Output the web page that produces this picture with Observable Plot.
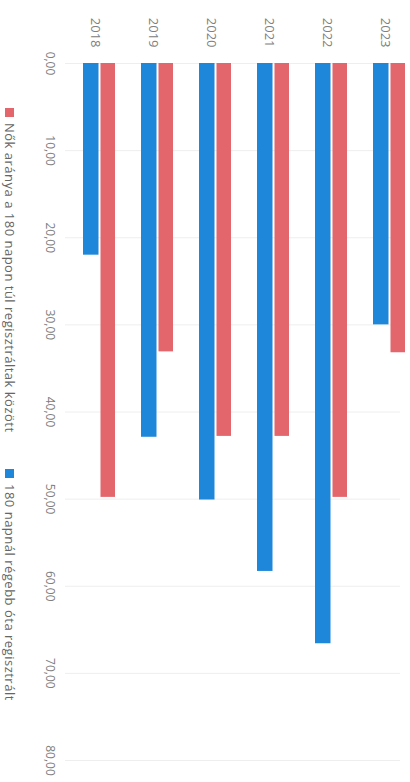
<!DOCTYPE html>
<html>
<head>
<meta charset="utf-8">
<script src="https://cdn.jsdelivr.net/npm/d3@7"></script>
<script src="https://cdn.jsdelivr.net/npm/@observablehq/plot@0.6"></script>
<style>
  html, body { margin: 0; padding: 0; overflow: hidden; background: #fff; width: 410px; height: 782px; }
  #wrap {
    position: absolute; left: 0; top: 0; width: 782px; height: 410px;
    transform-origin: 0 0; transform: translate(410px, 0) rotate(90deg);
    font-family: "Open Sans", sans-serif;
  }
  #legend { position: absolute; left: 0; top: 392px; height: 16px; width: 782px; font-size: 13px; color: #666; letter-spacing: 0.5px; }
  .item { position: absolute; top: 0; display: flex; align-items: center; height: 16px; white-space: nowrap; }
  .sw { width: 9px; height: 9px; margin-right: 6px; display: inline-block; }
</style>
</head>
<body>
<div id="wrap"><div id="chart"></div><div id="legend"></div></div>
<script>
const years = ["2018", "2019", "2020", "2021", "2022", "2023"];
const regisztraltak = [22.0, 42.9, 50.1, 58.3, 66.6, 30.0];   // 180 napnál régebb óta regisztrált
const nokAranya = [49.8, 33.1, 42.8, 42.8, 49.8, 33.2];        // Nők aránya a 180 napon túl regisztráltak között
const seriesNames = ["Nők aránya a 180 napon túl regisztráltak között", "180 napnál régebb óta regisztrált"];
const seriesColors = ["#E4666D", "#1F87D9"];
const xTicks = [0, 10, 20, 30, 40, 50, 60, 70, 80];

const blueData = years.map((y, i) => ({year: y, value: regisztraltak[i]}));
const redData = years.map((y, i) => ({year: y, value: nokAranya[i]}));
const fmt = d => d.toFixed(2).replace(".", ",");

const chart = Plot.plot({
  width: 782,
  height: 390,
  marginLeft: 63,
  marginRight: 22,
  marginTop: 10,
  marginBottom: 45,
  style: {fontFamily: "Open Sans", fontSize: "12px", color: "#808080", background: "transparent"},
  x: {domain: [0, 80], ticks: xTicks, tickFormat: fmt},
  y: {type: "band", domain: years.slice().reverse(), range: [-23, 355], padding: 0.45},
  marks: [
    Plot.gridX(xTicks, {stroke: "#eeeeee", strokeOpacity: 1, strokeWidth: 1}),
    Plot.barX(redData, {x: "value", y: "year", fill: seriesColors[0], insetBottom: 17.5}),
    Plot.barX(blueData, {x: "value", y: "year", fill: seriesColors[1], insetTop: 16.5}),
    Plot.axisX({ticks: xTicks, tickFormat: fmt, tickSize: 0, tickPadding: 10, label: null}),
    Plot.axisY({tickSize: 0, tickPadding: 16, dy: 3, fontSize: 13, label: null})
  ]
});
document.getElementById("chart").appendChild(chart);

const legend = document.getElementById("legend");
const legendX = [108, 469];
seriesNames.forEach((name, i) => {
  const it = document.createElement("div");
  it.className = "item";
  it.style.left = legendX[i] + "px";
  it.innerHTML = `<span class="sw" style="background:${seriesColors[i]}"></span><span>${name}</span>`;
  legend.appendChild(it);
});
</script>
</body>
</html>
